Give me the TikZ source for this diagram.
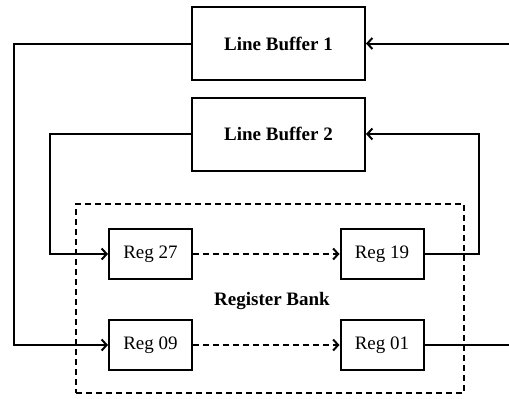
\documentclass[tikz,border=0pt]{standalone}
\usepackage{fontspec}
\setmainfont{Liberation Serif}
\usetikzlibrary{arrows.meta}
\begin{document}
\begin{tikzpicture}[x=1pt,y=-1pt,
  wire/.style={line width=2pt},
  arr/.style={wire,-{Straight Barb[length=5pt,width=11pt,line width=2pt]}},
  buf/.style={draw,line width=2pt,minimum width=173pt,minimum height=73pt,inner sep=0pt,font=\fontsize{19}{20}\selectfont\bfseries},
  reg/.style={draw,line width=2pt,minimum width=83pt,minimum height=50pt,inner sep=0pt,font=\fontsize{19}{20}\selectfont},
  bank/.style={draw,line width=2pt,dash pattern=on 6pt off 4pt,minimum width=388pt,minimum height=189pt,inner sep=0pt}]
\useasboundingbox (0,0) rectangle (509,399);
% register bank frame and its label
\node[bank] (bank) at (270,298.5) {};
\node[font=\fontsize{19}{20}\selectfont\bfseries] (banklbl) at (272,301) {Register Bank};
% line buffers
\node[buf] (lb1) at (278.5,43.5) {Line Buffer 1};
\node[buf] (lb2) at (278.5,134) {Line Buffer 2};
% registers
\node[reg] (r27) at (150.5,254) {Reg 27};
\node[reg] (r19) at (382,254) {Reg 19};
\node[reg] (r09) at (150.5,345) {Reg 09};
\node[reg] (r01) at (382,345) {Reg 01};
% free ends at the picture border
\coordinate (inR) at (509,43.5);
\coordinate (outR) at (509,345);
% connections
\draw[arr] (inR) -- (lb1.east);
\draw[arr] (lb1.west) -| (14,300) |- (r09.west);
\draw[arr] (lb2.west) -| (50,200) |- (r27.west);
\draw[arr] (r19.east) -| (479,180) |- (lb2.east);
\draw[wire] (r01.east) -- (outR);
\draw[arr,dash pattern=on 6pt off 4pt] (r27.east) -- (r19.west);
\draw[arr,dash pattern=on 6pt off 4pt] (r09.east) -- (r01.west);
\end{tikzpicture}
\end{document}
